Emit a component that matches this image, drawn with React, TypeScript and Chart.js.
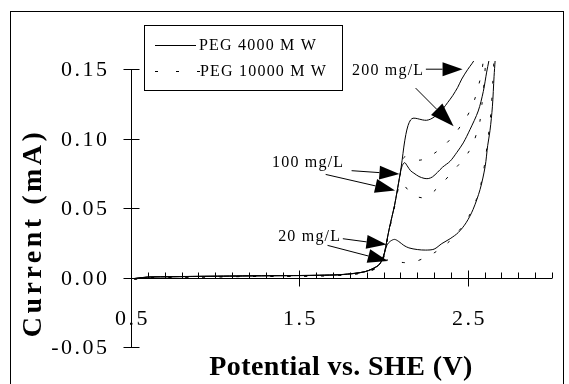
import React, { useEffect, useRef } from "react";
import { Chart, registerables } from "chart.js";

Chart.register(...registerables);

// ---------- data (potential V vs SHE, current mA) ----------
const peg4000_20_V = [0.52, 0.6, 0.75, 0.9, 1.05, 1.2, 1.35, 1.5, 1.62, 1.74, 1.83, 1.89, 1.93, 1.97, 1.99, 2.005, 2.02, 2.04, 2.065, 2.09, 2.12, 2.15, 2.2, 2.25, 2.3, 2.346, 2.395, 2.444, 2.49, 2.531, 2.573, 2.603, 2.618, 2.632, 2.646, 2.656, 2.662];
const peg4000_20_mA = [-0.0008, 0.0003, 0.0006, 0.0008, 0.001, 0.0012, 0.0013, 0.0014, 0.0016, 0.002, 0.003, 0.0042, 0.006, 0.0088, 0.0124, 0.0175, 0.0235, 0.0262, 0.0275, 0.026, 0.0232, 0.0214, 0.0202, 0.0198, 0.0205, 0.0245, 0.028, 0.0325, 0.0395, 0.049, 0.0635, 0.08, 0.095, 0.106, 0.123, 0.145, 0.156];

const peg4000_100_V = [0.52, 0.6, 0.75, 0.9, 1.05, 1.2, 1.35, 1.5, 1.62, 1.74, 1.83, 1.89, 1.93, 1.97, 1.99, 2.005, 2.02, 2.035, 2.05, 2.065, 2.08, 2.098, 2.11, 2.125, 2.14, 2.16, 2.18, 2.21, 2.24, 2.265, 2.29, 2.32, 2.35, 2.395, 2.434, 2.473, 2.513, 2.562, 2.592, 2.612, 2.625];
const peg4000_100_mA = [-0.0006, 0.0004, 0.0007, 0.0009, 0.0011, 0.0012, 0.0014, 0.0015, 0.0017, 0.0021, 0.0031, 0.0043, 0.0061, 0.0089, 0.0125, 0.0177, 0.027, 0.036, 0.044, 0.052, 0.062, 0.0745, 0.0805, 0.0828, 0.0805, 0.077, 0.0752, 0.0728, 0.0715, 0.0713, 0.0725, 0.0758, 0.0795, 0.0838, 0.09, 0.097, 0.1066, 0.12, 0.134, 0.148, 0.156];

const peg4000_200_V = [0.52, 0.6, 0.75, 0.9, 1.05, 1.2, 1.35, 1.5, 1.62, 1.74, 1.83, 1.89, 1.93, 1.97, 1.99, 2.005, 2.02, 2.035, 2.05, 2.065, 2.08, 2.098, 2.11, 2.12, 2.132, 2.145, 2.16, 2.175, 2.2, 2.23, 2.255, 2.28, 2.306, 2.33, 2.355, 2.38, 2.41, 2.44, 2.464, 2.5, 2.524, 2.535];
const peg4000_200_mA = [-0.0007, 0.0004, 0.0006, 0.0009, 0.001, 0.0013, 0.0014, 0.0015, 0.0017, 0.0021, 0.0031, 0.0043, 0.0062, 0.009, 0.0126, 0.0178, 0.027, 0.036, 0.044, 0.052, 0.062, 0.0745, 0.0845, 0.094, 0.103, 0.1095, 0.1135, 0.1148, 0.1145, 0.1136, 0.1133, 0.1142, 0.1162, 0.119, 0.122, 0.126, 0.131, 0.137, 0.143, 0.15, 0.154, 0.156];

const peg10000_20_V = [0.52, 0.6, 0.75, 0.9, 1.05, 1.2, 1.35, 1.5, 1.62, 1.74, 1.83, 1.89, 1.93, 1.97, 1.99, 2.01, 2.04, 2.08, 2.12, 2.16, 2.2, 2.246, 2.3, 2.345, 2.39, 2.426, 2.47, 2.51, 2.55, 2.585, 2.607, 2.622, 2.638, 2.648, 2.655];
const peg10000_20_mA = [-0.0012, -0.0002, 0.0002, 0.0004, 0.0006, 0.0008, 0.0009, 0.001, 0.0012, 0.0016, 0.0025, 0.0036, 0.0052, 0.0075, 0.0105, 0.0125, 0.0125, 0.0115, 0.0108, 0.0108, 0.012, 0.0144, 0.0178, 0.0216, 0.026, 0.031, 0.037, 0.045, 0.056, 0.071, 0.088, 0.102, 0.12, 0.14, 0.156];

const peg10000_100_V = [0.52, 0.6, 0.75, 0.9, 1.05, 1.2, 1.35, 1.5, 1.62, 1.74, 1.83, 1.89, 1.93, 1.97, 1.99, 2.005, 2.02, 2.035, 2.05, 2.065, 2.08, 2.092, 2.105, 2.125, 2.17, 2.226, 2.27, 2.315, 2.36, 2.4, 2.44, 2.473, 2.505, 2.533, 2.555, 2.572, 2.585, 2.598, 2.606];
const peg10000_100_mA = [-0.0011, -0.0001, 0.0003, 0.0005, 0.0006, 0.0008, 0.0009, 0.0011, 0.0013, 0.0017, 0.0026, 0.0037, 0.0054, 0.0078, 0.011, 0.0165, 0.026, 0.035, 0.043, 0.051, 0.06, 0.066, 0.0685, 0.066, 0.06, 0.0575, 0.0592, 0.064, 0.0695, 0.075, 0.0805, 0.085, 0.0905, 0.097, 0.105, 0.1126, 0.126, 0.142, 0.156];

const peg10000_200_V = [0.52, 0.6, 0.75, 0.9, 1.05, 1.2, 1.35, 1.5, 1.62, 1.74, 1.83, 1.89, 1.93, 1.97, 1.99, 2.005, 2.02, 2.035, 2.05, 2.065, 2.08, 2.098, 2.11, 2.125, 2.15, 2.18, 2.217, 2.26, 2.3, 2.35, 2.395, 2.43, 2.464, 2.495, 2.52, 2.54, 2.558, 2.572, 2.583, 2.592];
const peg10000_200_mA = [-0.001, -0.0001, 0.0003, 0.0005, 0.0007, 0.0008, 0.001, 0.0011, 0.0013, 0.0017, 0.0027, 0.0038, 0.0055, 0.008, 0.0112, 0.0168, 0.026, 0.035, 0.043, 0.051, 0.061, 0.0735, 0.0835, 0.087, 0.0862, 0.0852, 0.0846, 0.0862, 0.0894, 0.094, 0.0995, 0.1045, 0.1105, 0.116, 0.122, 0.128, 0.136, 0.142, 0.1485, 0.156];

const seriesNames = ["PEG 4000 M W", "PEG 10000 M W"];

// axis ticks
const xMajorTicks = [0.5, 1.5, 2.5];
const xTickLabels = ["0.5", "1.5", "2.5"];
const xMinorTicks = [0.6, 0.7, 0.8, 0.9, 1.0, 1.1, 1.2, 1.3, 1.4, 1.6, 1.7, 1.8, 1.9, 2.0, 2.1, 2.2, 2.3, 2.4, 2.6, 2.7, 2.8, 2.9, 3.0];
const yTicks = [-0.05, 0.0, 0.05, 0.1, 0.15];
const yTickLabels = ["-0.05", "0.00", "0.05", "0.10", "0.15"];

// annotations (data coordinates)
const annotationTexts = ["200 mg/L", "100 mg/L", "20 mg/L"];
const annotationTextPos = [
  [2.027, 0.1487],
  [1.552, 0.0827],
  [1.561, 0.0297],
];
const annotationArrows = [
  [2.251, 0.1501, 2.469, 0.1501],
  [2.19, 0.1365, 2.416, 0.109],
  [1.81, 0.077, 2.094, 0.0746],
  [1.656, 0.0743, 2.068, 0.0628],
  [1.758, 0.028, 2.017, 0.0238],
  [1.667, 0.0232, 2.025, 0.0119],
];

const FONT = "'Liberation Serif', 'Times New Roman', serif";

function drawArrow(ctx: CanvasRenderingContext2D, x1: number, y1: number, x2: number, y2: number, headLen: number, headW: number) {
  const ang = Math.atan2(y2 - y1, x2 - x1);
  const bx = x2 - headLen * Math.cos(ang);
  const by = y2 - headLen * Math.sin(ang);
  ctx.beginPath();
  ctx.moveTo(x1, y1);
  ctx.lineTo(bx, by);
  ctx.stroke();
  ctx.beginPath();
  ctx.moveTo(x2, y2);
  ctx.lineTo(bx + headW * Math.sin(ang), by - headW * Math.cos(ang));
  ctx.lineTo(bx - headW * Math.sin(ang), by + headW * Math.cos(ang));
  ctx.closePath();
  ctx.fill();
}

const decorPlugin = {
  id: "decor",
  afterDraw(chart: any) {
    const ctx: CanvasRenderingContext2D = chart.ctx;
    const xs = chart.scales.x;
    const ys = chart.scales.y;
    ctx.save();
    ctx.strokeStyle = "#000";
    ctx.fillStyle = "#000";
    ctx.lineWidth = 1;

    // outer frame
    ctx.strokeRect(10.5, 11.5, 553, 390);

    const x0 = Math.round(xs.getPixelForValue(0.5)) + 0.5;
    const yZero = Math.round(ys.getPixelForValue(0)) + 0.5;

    // y axis
    ctx.beginPath();
    ctx.moveTo(x0, ys.getPixelForValue(0.15));
    ctx.lineTo(x0, ys.getPixelForValue(-0.05));
    ctx.stroke();
    ctx.font = `22px ${FONT}`;
    (ctx as any).letterSpacing = "2.5px";
    ctx.textAlign = "right";
    ctx.textBaseline = "middle";
    yTicks.forEach((v, i) => {
      const py = Math.round(ys.getPixelForValue(v)) + 0.5;
      ctx.beginPath();
      ctx.moveTo(x0 - 8, py);
      ctx.lineTo(x0 + 8, py);
      ctx.stroke();
      ctx.fillText(yTickLabels[i], x0 - 22, py + 1);
    });

    // x axis at zero
    ctx.beginPath();
    ctx.moveTo(x0, yZero);
    ctx.lineTo(xs.getPixelForValue(3.0), yZero);
    ctx.stroke();
    xMinorTicks.forEach((v) => {
      const px = Math.round(xs.getPixelForValue(v)) + 0.5;
      ctx.beginPath();
      ctx.moveTo(px, yZero - 6);
      ctx.lineTo(px, yZero);
      ctx.stroke();
    });
    ctx.textAlign = "center";
    xMajorTicks.forEach((v, i) => {
      const px = Math.round(xs.getPixelForValue(v)) + 0.5;
      ctx.beginPath();
      ctx.moveTo(px, yZero - 8);
      ctx.lineTo(px, yZero + 8);
      ctx.stroke();
      ctx.fillText(xTickLabels[i], px + 1, yZero + 41);
    });

    // axis titles
    ctx.font = `bold 28px ${FONT}`;
    (ctx as any).letterSpacing = "0.4px";
    ctx.textAlign = "center";
    ctx.fillText("Potential vs. SHE (V)", 341, 368);
    ctx.save();
    (ctx as any).letterSpacing = "3.5px";
    ctx.translate(34, 233);
    ctx.rotate(-Math.PI / 2);
    ctx.fillText("Current (mA)", 0, 0);
    ctx.restore();

    // legend
    ctx.strokeRect(144.5, 25.5, 198, 65);
    ctx.beginPath();
    ctx.moveTo(155, 45.5);
    ctx.lineTo(196, 45.5);
    ctx.stroke();
    ctx.setLineDash([3, 18]);
    ctx.beginPath();
    ctx.moveTo(155, 71.5);
    ctx.lineTo(200, 71.5);
    ctx.stroke();
    ctx.setLineDash([]);
    ctx.font = `16px ${FONT}`;
    (ctx as any).letterSpacing = "1.2px";
    ctx.textAlign = "left";
    ctx.fillText(seriesNames[0], 199, 46);
    ctx.fillText(seriesNames[1], 200, 72);

    // annotations
    ctx.textAlign = "center";
    annotationTexts.forEach((t, i) => {
      const [vx, vy] = annotationTextPos[i];
      ctx.fillText(t, xs.getPixelForValue(vx), ys.getPixelForValue(vy));
    });
    annotationArrows.forEach((a, i) => {
      drawArrow(
        ctx,
        xs.getPixelForValue(a[0]),
        ys.getPixelForValue(a[1]),
        xs.getPixelForValue(a[2]),
        ys.getPixelForValue(a[3]),
        i === 1 ? 24 : 20,
        i === 1 ? 8 : 7
      );
    });
    ctx.restore();
  },
};

function toPoints(xv: number[], yv: number[]) {
  return xv.map((x, i) => ({ x, y: yv[i] }));
}

export default function App() {
  const ref = useRef<HTMLCanvasElement | null>(null);
  useEffect(() => {
    document.body.style.margin = "0";
    const canvas = ref.current;
    if (!canvas) return;
    const solid = { borderColor: "#000", borderWidth: 1, pointRadius: 0, showLine: true, fill: false, tension: 0.3 };
    const dashed = { ...solid, borderDash: [3, 14] };
    const chart = new Chart(canvas, {
      type: "scatter",
      data: {
        datasets: [
          { label: seriesNames[0] + " 20", data: toPoints(peg4000_20_V, peg4000_20_mA), ...solid },
          { label: seriesNames[0] + " 100", data: toPoints(peg4000_100_V, peg4000_100_mA), ...solid },
          { label: seriesNames[0] + " 200", data: toPoints(peg4000_200_V, peg4000_200_mA), ...solid },
          { label: seriesNames[1] + " 20", data: toPoints(peg10000_20_V, peg10000_20_mA), ...dashed },
          { label: seriesNames[1] + " 100", data: toPoints(peg10000_100_V, peg10000_100_mA), ...dashed },
          { label: seriesNames[1] + " 200", data: toPoints(peg10000_200_V, peg10000_200_mA), ...dashed },
        ] as any,
      },
      options: {
        animation: false,
        responsive: false,
        layout: { padding: { left: 131, right: 17, top: 61, bottom: 37 } },
        plugins: { legend: { display: false }, tooltip: { enabled: false } },
        scales: {
          x: { type: "linear", min: 0.5, max: 3.0, display: false },
          y: { type: "linear", min: -0.05, max: 0.156, display: false },
        },
      },
      plugins: [decorPlugin],
    });
    return () => chart.destroy();
  }, []);
  return (
    <div style={{ position: "absolute", left: 0, top: 0, width: 569, height: 384, background: "#fff" }}>
      <canvas ref={ref} width={569} height={384} style={{ width: 569, height: 384, display: "block" }} />
    </div>
  );
}
